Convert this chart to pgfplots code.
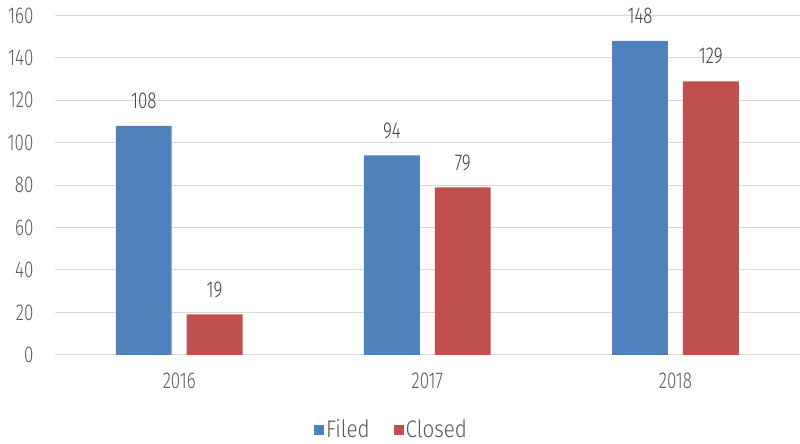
\documentclass[border=0pt]{standalone}
\usepackage{pgfplots}
\pgfplotsset{compat=1.18}
\usepackage{fontspec}
\setmainfont{Fira Sans}[UprightFont=* Light, FakeStretch=0.74]
\newfontfamily\legfont{Fira Sans}[UprightFont=* Light, FakeStretch=0.86]
\definecolor{cblue}{HTML}{4F81BD}
\definecolor{cred}{HTML}{C0504D}
\definecolor{cgrid}{HTML}{D9D9D9}
\definecolor{ctext}{HTML}{595959}
\definecolor{clab}{HTML}{404040}
\begin{document}
\fontsize{23}{27}\selectfont
\begin{tikzpicture}
\begin{axis}[
  scale only axis,
  width=746pt, height=340pt,
  ymin=0, ymax=160,
  xmin=-0.5, xmax=2.5,
  ybar=15pt, bar width=56pt,
  xtick={0,1,2}, xticklabels={2016,2017,2018},
  ytick={0,20,...,160},
  ymajorgrids, grid style={cgrid, line width=1pt},
  axis line style={draw=none},
  axis x line*=bottom, axis y line*=left,
  x axis line style={draw=cgrid, line width=1pt},
  major tick length=0pt,
  tick label style={font=\fontsize{23}{27}\selectfont, text=ctext},
  /pgf/number format/assume math mode=true,
  yticklabel style={xshift=-14pt},
  xticklabel style={yshift=-10pt},
  nodes near coords,
  every node near coord/.append style={font=\fontsize{23}{27}\selectfont, text=clab, yshift=9pt},
  legend style={at={(0.452,-0.222)}, anchor=center, draw=none, legend columns=2,
    font=\legfont\fontsize{24}{26}\selectfont, text=ctext, inner sep=1pt,
    /tikz/every even column/.append style={column sep=22pt}},
  legend image code/.code={\fill[#1] (0pt,-5pt) rectangle (10pt,5pt);},
]
\addplot[fill=cblue, draw=none] coordinates {(0,108) (1,94) (2,148)};
\addlegendentry{Filed}
\addplot[fill=cred, draw=none] coordinates {(0,19) (1,79) (2,129)};
\addlegendentry{Closed}
\end{axis}
\end{tikzpicture}
\end{document}
